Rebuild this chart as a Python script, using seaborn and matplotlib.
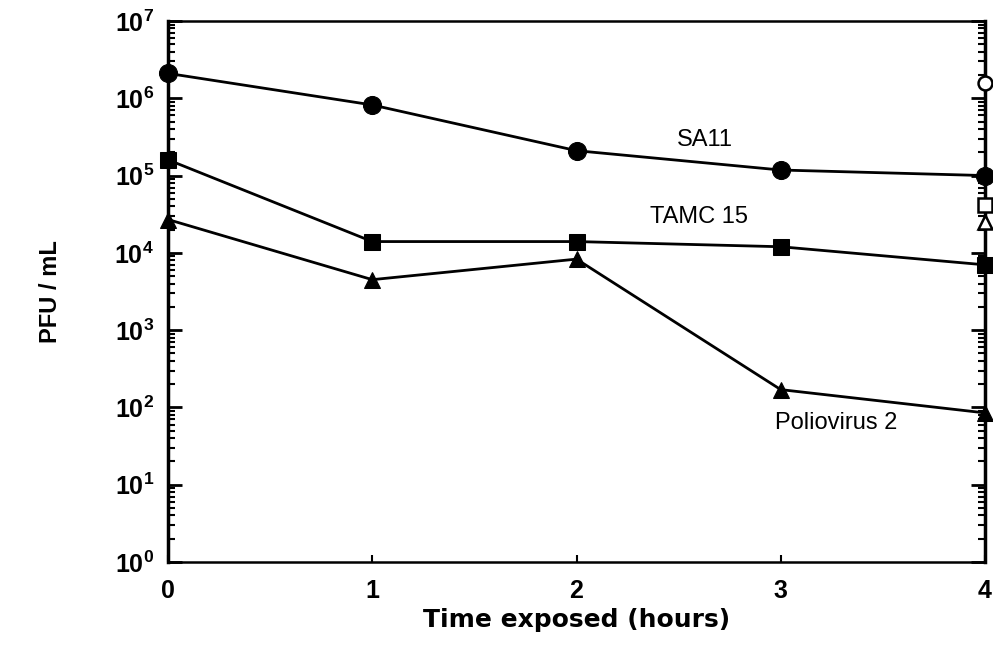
import matplotlib
matplotlib.use("Agg")
import matplotlib.pyplot as plt
import matplotlib.ticker as mticker
import seaborn as sns
import pandas as pd
import numpy as np

hours = [0, 1, 2, 3, 4]
sa11 = [2.1e6, 8.2e5, 2.1e5, 1.18e5, 1.0e5]
tamc15 = [1.6e5, 1.4e4, 1.4e4, 1.2e4, 7.0e3]
polio2 = [2.7e4, 4.5e3, 8.3e3, 170, 85]
series_names = ["SA11", "TAMC 15", "Poliovirus 2"]
# control (open) values at 4 h
control_x = [4, 4, 4]
control_y = [1.6e6, 4.2e4, 2.5e4]
label_pos = {"SA11": (2.63, 2.9e5), "TAMC 15": (2.60, 2.9e4), "Poliovirus 2": (3.27, 62)}

sns.set_theme(style="white")
plt.rcParams['font.family'] = ['Liberation Sans', 'DejaVu Sans']
plt.rcParams['mathtext.fontset'] = 'custom'
plt.rcParams['mathtext.rm'] = 'Liberation Sans'
plt.rcParams['mathtext.it'] = 'Liberation Sans'
plt.rcParams['mathtext.bf'] = 'Liberation Sans:bold'
for key in ['text.color', 'axes.labelcolor', 'xtick.color', 'ytick.color']:
    plt.rcParams[key] = 'black'

df = pd.DataFrame({
    "hours": hours * 3,
    "pfu": sa11 + tamc15 + polio2,
    "series": sum([[n] * len(hours) for n in series_names], []),
})

fig = plt.figure(figsize=(9.93, 6.47), dpi=100)
ax = fig.add_axes([168 / 993, 85 / 647, 817 / 993, 541 / 647])

markers = {"SA11": "o", "TAMC 15": "s", "Poliovirus 2": "^"}
sizes = {"SA11": 13, "TAMC 15": 11, "Poliovirus 2": 12}
for name in series_names:
    sub = df[df["series"] == name]
    sns.lineplot(data=sub, x="hours", y="pfu", ax=ax, color="black",
                 linewidth=2.0, marker=markers[name], markersize=sizes[name],
                 markeredgecolor="black", markerfacecolor="black",
                 clip_on=False, zorder=3)

ctrl_markers = ["o", "s", "^"]
for cx, cy, m in zip(control_x, control_y, ctrl_markers):
    ax.plot([cx], [cy], linestyle="none", marker=m, markersize=10,
            markerfacecolor="white", markeredgecolor="black",
            markeredgewidth=1.8, clip_on=False, zorder=4)

for name in series_names:
    tx, ty = label_pos[name]
    ax.text(tx, ty, name, ha="center", va="center", fontsize=17,
            color="black")

ax.set_yscale("log")
ax.set_ylim(1, 1e7)
ax.set_xlim(0, 4)
ax.set_xticks(hours)
ax.set_yticks([10.0 ** k for k in range(0, 8)])
ax.yaxis.set_major_formatter(
    mticker.FuncFormatter(lambda v, p: r"$\mathbf{10^{%d}}$" % int(round(np.log10(v)))))
ax.yaxis.set_minor_locator(mticker.LogLocator(base=10, subs=np.arange(2, 10), numticks=20))
ax.yaxis.set_minor_formatter(mticker.NullFormatter())

ax.tick_params(axis="y", which="major", direction="in", length=10, width=2,
               left=True, right=True, labelsize=18, pad=10, colors="black")
ax.tick_params(axis="y", which="minor", direction="in", length=5, width=1.5,
               left=True, right=True, colors="black")
ax.tick_params(axis="x", which="major", direction="in", length=5, width=1.5,
               bottom=True, top=False, labelsize=18, pad=12, colors="black")
for lbl in ax.get_xticklabels():
    lbl.set_fontweight("bold")

for sp in ax.spines.values():
    sp.set_color("black")
    sp.set_linewidth(1.8)
ax.spines["left"].set_linewidth(2.5)
ax.spines["right"].set_linewidth(2.5)

ax.set_xlabel("Time exposed (hours)", fontsize=18, fontweight="bold",
              family=["DejaVu Sans"], labelpad=4, color="black")
ax.set_ylabel("PFU / mL", fontsize=17, fontweight="bold", labelpad=38,
              color="black")
ax.grid(False)

fig.savefig("out.png", dpi=100)
